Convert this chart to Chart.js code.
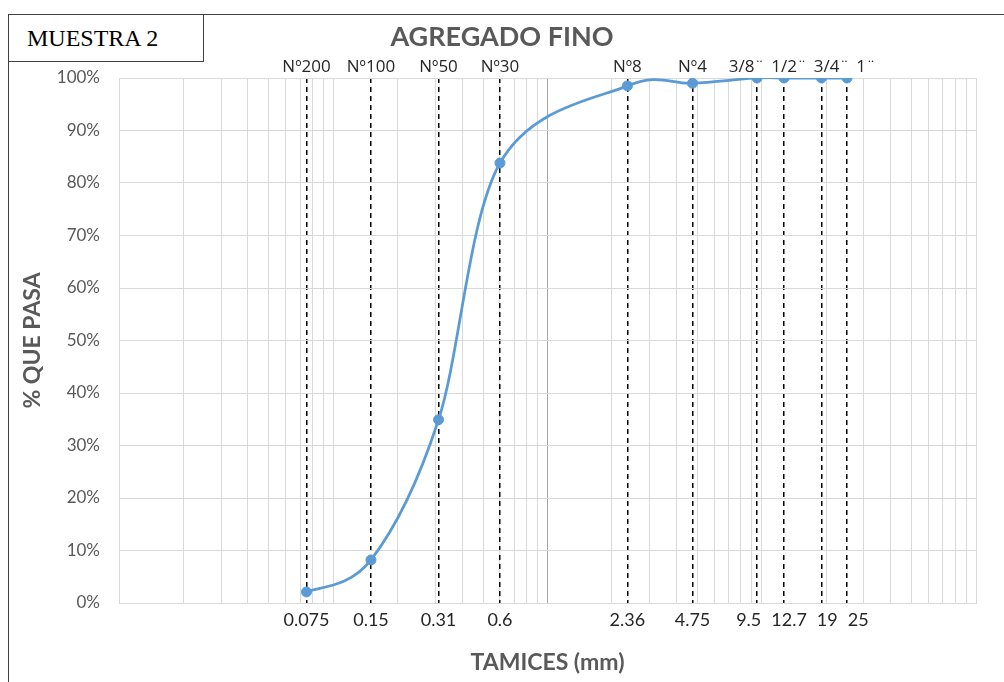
<!DOCTYPE html>
<html lang="es">
<head>
<meta charset="utf-8">
<title>Agregado fino - Muestra 2</title>
<script src="https://cdn.jsdelivr.net/npm/chart.js@4.4.1/dist/chart.umd.min.js"></script>
<style>
    body { margin: 0; background: #fff; }
    #wrap { position: relative; width: 1004px; height: 682px; }
    #frame {
        position: absolute; left: 8px; top: 14px; right: 0; bottom: 0;
        border-top: 1.5px solid #404040; border-left: 1.5px solid #404040;
        pointer-events: none;
    }
    #muestra {
        position: absolute; left: 8px; top: 14px; width: 176px; height: 46px;
        border: 1.5px solid #404040; background: #fff;
        font-family: "Liberation Serif", "Times New Roman", serif; font-size: 24px;
        line-height: 46px; padding-left: 18px; color: #000;
    }
</style>
</head>
<body>
<div id="wrap">
    <canvas id="granulometria" width="1004" height="682"></canvas>
    <div id="frame"></div>
    <div id="muestra">MUESTRA 2</div>
</div>
<script>
// tamices y porcentaje que pasa
const sieveNames = ['Nº200', 'Nº100', 'Nº50', 'Nº30', 'Nº8', 'Nº4', '3/8¨', '1/2¨', '3/4¨', '1¨'];
const sieveSizes = [0.075, 0.15, 0.31, 0.6, 2.36, 4.75, 9.5, 12.7, 19, 25];
const sizeLabels = ['0.075', '0.15', '0.31', '0.6', '2.36', '4.75', '9.5', '12.7', '19', '25'];
const percentPassing = [2.1, 8.2, 34.9, 83.8, 98.5, 99, 100, 100, 100, 100];

const xMin = 0.01;
const xMax = 100;

// lineas de la grilla logaritmica (1..9 por decada)
const logGrid = [];
for (let d = xMin; d < xMax; d *= 10) {
    for (let k = 1; k <= 9; k++) {
        logGrid.push(Math.round(k * d * 1000) / 1000);
    }
}
logGrid.push(xMax);

const font = 'Lato';
const grey = '#595959';
const gridColor = '#d9d9d9';

// separa etiquetas que se pisan: cada grupo se centra en el promedio de sus tamices
function spreadLabels(items, gap) {
    const place = g => {
        const total = g.reduce((s, it) => s + it.w, 0) + gap * (g.length - 1);
        let left = g.reduce((s, it) => s + it.x, 0) / g.length - total / 2;
        g.forEach(it => { it.pos = left + it.w / 2; left += it.w + gap; });
    };
    let groups = items.map(it => [it]);
    let merged = true;
    while (merged) {
        merged = false;
        groups.forEach(place);
        for (let i = 0; i < groups.length - 1; i++) {
            const a = groups[i][groups[i].length - 1];
            const b = groups[i + 1][0];
            if (a.pos + a.w / 2 + gap > b.pos - b.w / 2) {
                groups.splice(i, 2, groups[i].concat(groups[i + 1]));
                merged = true;
                break;
            }
        }
    }
    return items;
}

// suavizado tipo hoja de calculo: puntos de control a 1/6 de la cuerda vecina
const smoothLine = {
    id: 'smoothLine',
    beforeDatasetDraw(chart, args) {
        const meta = args.meta;
        const pts = meta.data;
        meta.dataset.updateControlPoints(chart.chartArea, meta.iScale.axis);
        pts.forEach((p, i) => {
            const prev = pts[Math.max(i - 1, 0)];
            const next = pts[Math.min(i + 1, pts.length - 1)];
            const dx = (next.x - prev.x) / 6;
            const dy = (next.y - prev.y) / 6;
            p.cp1x = p.x - dx;
            p.cp1y = p.y - dy;
            p.cp2x = p.x + dx;
            p.cp2y = p.y + dy;
        });
    }
};

const sieveText = {
    id: 'sieveText',
    afterDraw(chart) {
        const { ctx, chartArea, scales } = chart;
        const xs = scales.x;
        ctx.save();
        ctx.textBaseline = 'middle';
        ctx.textAlign = 'center';

        ctx.fillStyle = grey;
        ctx.font = 'bold 27px ' + font;
        ctx.fillText('AGREGADO FINO', chart.width / 2, 37);

        ctx.fillStyle = '#262626';
        ctx.font = '17px "Open Sans"';
        const top = sieveSizes.map((s, i) => ({
            x: xs.getPixelForValue(s), w: ctx.measureText(sieveNames[i]).width, text: sieveNames[i]
        }));
        spreadLabels(top, 7).forEach(it => ctx.fillText(it.text, it.pos, chartArea.top - 10.5));

        ctx.font = '18px ' + font;
        const bottom = sieveSizes.map((s, i) => ({
            x: xs.getPixelForValue(s), w: ctx.measureText(sizeLabels[i]).width, text: sizeLabels[i]
        }));
        spreadLabels(bottom, 10).forEach(it => ctx.fillText(it.text, it.pos, chartArea.bottom + 17));
        ctx.restore();
    }
};

const points = sieveSizes.map((s, i) => ({ x: s, y: percentPassing[i] }));

const ctx = document.getElementById('granulometria').getContext('2d');
const chart = new Chart(ctx, {
    type: 'line',
    data: {
        datasets: [{
            data: points,
            xAxisID: 'x',
            yAxisID: 'y',
            borderColor: '#5b9bd5',
            backgroundColor: '#5b9bd5',
            borderWidth: 2.75,
            pointRadius: 5,
            pointBorderWidth: 1,
            pointBackgroundColor: '#5b9bd5',
            pointBorderColor: '#5b9bd5',
            tension: 0.25,
            fill: false
        }]
    },
    options: {
        responsive: false,
        animation: false,
        devicePixelRatio: 1,
        layout: { padding: { left: 0, right: 28, top: 52, bottom: 0 } },
        plugins: {
            legend: { display: false },
            tooltip: { enabled: false },
            title: { display: false }
        },
        scales: {
            // grilla logaritmica
            x: {
                type: 'logarithmic',
                position: 'bottom',
                min: xMin,
                max: xMax,
                afterBuildTicks: scale => { scale.ticks = logGrid.map(v => ({ value: v })); },
                afterFit: scale => { scale.height = 0; },
                ticks: { display: false, autoSkip: false },
                grid: {
                    drawTicks: false,
                    lineWidth: 1,
                    color: c => (c.tick && c.tick.value === 1 ? '#a6a6a6' : gridColor)
                },
                border: { color: gridColor }
            },
            // espacio de las aberturas y titulo del eje
            xSize: {
                type: 'logarithmic',
                position: 'bottom',
                min: xMin,
                max: xMax,
                afterFit: scale => { scale.height = 79; },
                grid: { display: false, drawTicks: false },
                border: { display: false },
                ticks: { display: false },
                title: {
                    display: true,
                    text: 'TAMICES (mm)',
                    color: grey,
                    font: { family: font, size: 23, weight: 'bold' },
                    padding: { top: 0, bottom: 6 }
                }
            },
            // lineas punteadas de cada tamiz
            xSieve: {
                type: 'logarithmic',
                position: 'top',
                min: xMin,
                max: xMax,
                afterBuildTicks: scale => { scale.ticks = sieveSizes.map(v => ({ value: v })); },
                afterFit: scale => { scale.height = 26; },
                grid: { drawTicks: false, color: '#000', lineWidth: 1.5 },
                border: { display: false, dash: [5, 4] },
                ticks: { display: false, autoSkip: false }
            },
            y: {
                min: 0,
                max: 100,
                afterFit: scale => { scale.width = 119; },
                grid: { color: gridColor, drawTicks: false },
                border: { color: gridColor },
                ticks: {
                    stepSize: 10,
                    padding: 19,
                    color: grey,
                    font: { family: font, size: 17 },
                    callback: v => v + '%'
                },
                title: {
                    display: true,
                    text: '% QUE PASA',
                    color: grey,
                    font: { family: font, size: 23, weight: 'bold' },
                    padding: { top: 19, bottom: 0 }
                }
            }
        }
    },
    plugins: [smoothLine, sieveText]
});
</script>
</body>
</html>
